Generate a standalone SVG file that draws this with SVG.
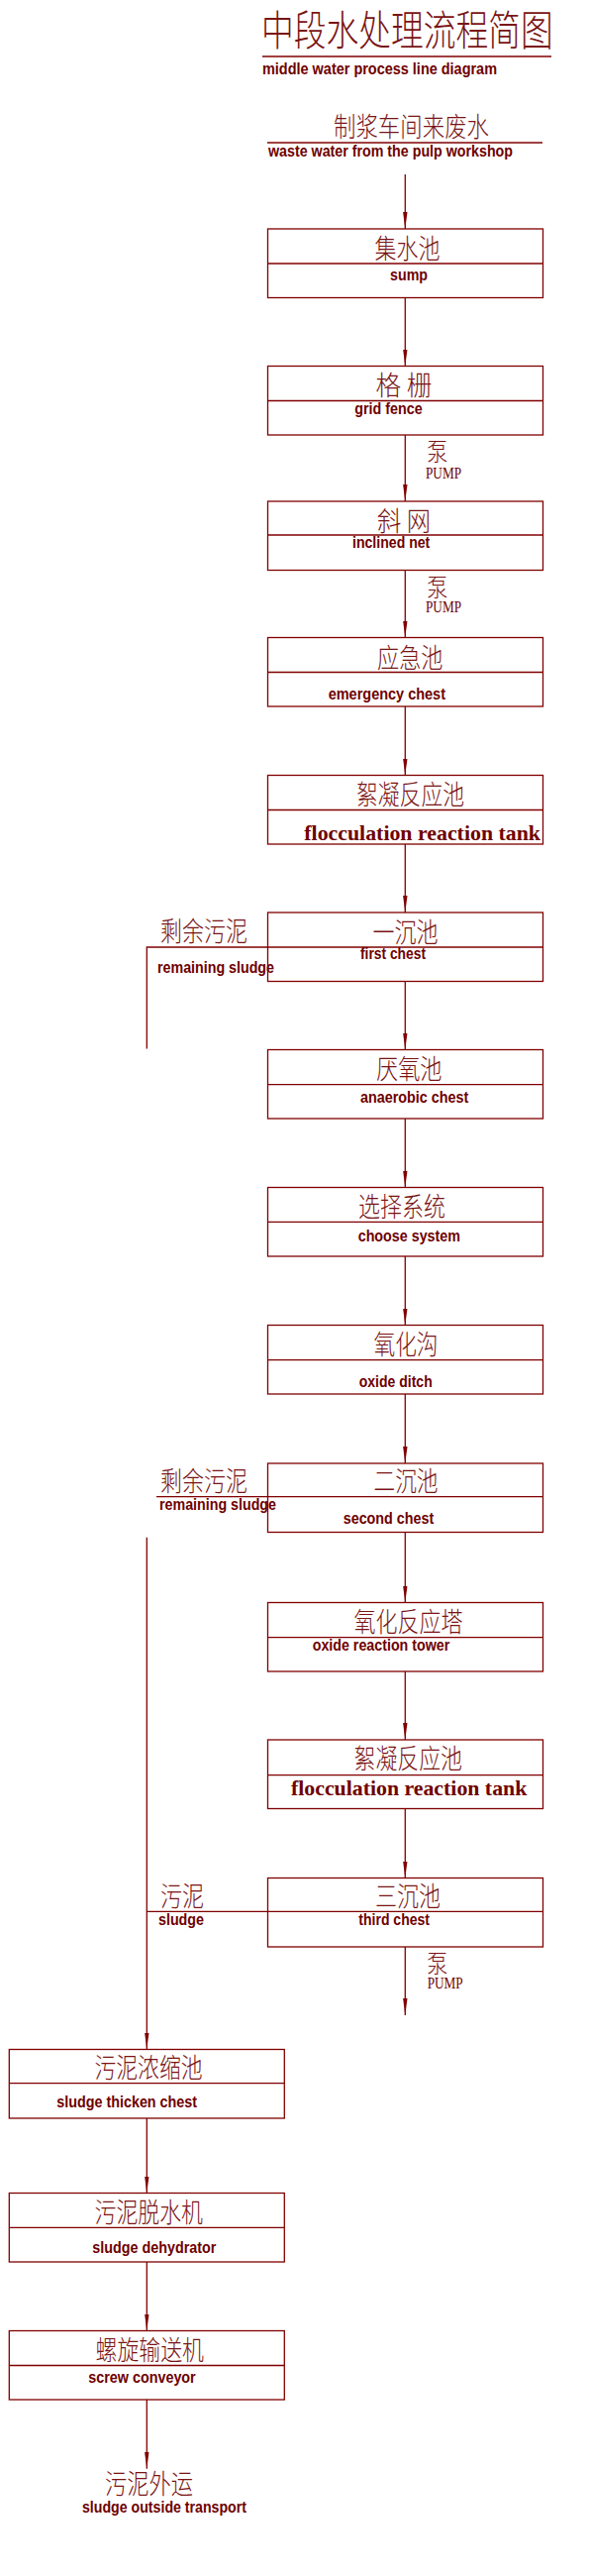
<svg xmlns="http://www.w3.org/2000/svg" width="596" height="2600" viewBox="0 0 596 2600">
<style>
.bx{fill:none;stroke:#800000;stroke-width:1.3}
.dv{stroke:#800000;stroke-width:1.3}
.cn{font-family:"Noto Sans CJK SC Light","Noto Sans CJK SC","Noto Sans CJK JP",sans-serif;font-weight:200;font-size:27px;fill:#7a1414}
.en{font-family:"Liberation Sans",Arial,sans-serif;font-weight:bold;font-size:16px;fill:#6e0000}
.sf{font-family:"Liberation Serif","Times New Roman",serif;font-weight:bold;font-size:21px;fill:#6e0000}
.pm{font-family:"Liberation Serif","Times New Roman",serif;font-size:16px;fill:#6e0000}
#connectors line,#connectors polyline{stroke:#800000;stroke-width:1.3;fill:none}
</style>
<defs>
<marker id="ah" markerUnits="userSpaceOnUse" viewBox="0 -3 17 6" refX="17" refY="0" markerWidth="17" markerHeight="6" orient="auto">
<path d="M0,-2.2 L17,0 L0,2.2 z" fill="#800000"/>
</marker>
</defs>
<rect width="596" height="2600" fill="#ffffff"/>

<g id="title">
<text class="cn" transform="translate(264,46) scale(0.78,1)" x="0" y="0" style="font-size:42px">中段水处理流程简图</text>
<line class="dv" x1="265" y1="57" x2="557" y2="57"/>
<text class="en" x="265" y="75" textLength="237" lengthAdjust="spacingAndGlyphs">middle water process line diagram</text>
</g>

<g id="source">
<text class="cn" x="337" y="138" textLength="157" lengthAdjust="spacingAndGlyphs">制浆车间来废水</text>
<line class="dv" x1="270" y1="144" x2="548" y2="144"/>
<text class="en" x="271" y="157.5" style="font-size:17px" textLength="247" lengthAdjust="spacingAndGlyphs">waste water from the pulp workshop</text>
</g>

<g id="connectors">
<line x1="409.3" y1="176" x2="409.3" y2="231" marker-end="url(#ah)"/>
<line x1="409.3" y1="300.5" x2="409.3" y2="369.5" marker-end="url(#ah)"/>
<line x1="409.3" y1="439" x2="409.3" y2="506" marker-end="url(#ah)"/>
<line x1="409.3" y1="575.5" x2="409.3" y2="643.5" marker-end="url(#ah)"/>
<line x1="409.3" y1="713" x2="409.3" y2="782.5" marker-end="url(#ah)"/>
<line x1="409.3" y1="852" x2="409.3" y2="921" marker-end="url(#ah)"/>
<line x1="409.3" y1="990.5" x2="409.3" y2="1059.5" marker-end="url(#ah)"/>
<line x1="409.3" y1="1129" x2="409.3" y2="1198.5" marker-end="url(#ah)"/>
<line x1="409.3" y1="1268" x2="409.3" y2="1337.5" marker-end="url(#ah)"/>
<line x1="409.3" y1="1407" x2="409.3" y2="1477" marker-end="url(#ah)"/>
<line x1="409.3" y1="1546.5" x2="409.3" y2="1617.5" marker-end="url(#ah)"/>
<line x1="409.3" y1="1687" x2="409.3" y2="1756" marker-end="url(#ah)"/>
<line x1="409.3" y1="1825.5" x2="409.3" y2="1895.5" marker-end="url(#ah)"/>
<line x1="409.3" y1="1965" x2="409.3" y2="2034" marker-end="url(#ah)"/>
<polyline points="270.5,956 148.3,956 148.3,1058.5"/>
<line x1="158" y1="1510.7" x2="270.5" y2="1510.7"/>
<line x1="148.3" y1="1551.7" x2="148.3" y2="2068.5" marker-end="url(#ah)"/>
<line x1="148.3" y1="1929.3" x2="270.5" y2="1929.3"/>
<line x1="148.3" y1="2138" x2="148.3" y2="2213.5" marker-end="url(#ah)"/>
<line x1="148.3" y1="2283" x2="148.3" y2="2352.5" marker-end="url(#ah)"/>
<line x1="148.3" y1="2422" x2="148.3" y2="2491.7" marker-end="url(#ah)"/>
</g>

<g id="pump-labels">
<text class="cn" x="431" y="465" style="font-size:25px" textLength="21.5" lengthAdjust="spacingAndGlyphs">泵</text>
<text class="pm" x="430" y="483.3" textLength="36" lengthAdjust="spacingAndGlyphs">PUMP</text>
<text class="cn" x="431" y="601.5" style="font-size:25px" textLength="21.5" lengthAdjust="spacingAndGlyphs">泵</text>
<text class="pm" x="430" y="618.3" textLength="36" lengthAdjust="spacingAndGlyphs">PUMP</text>
<text class="cn" x="431" y="1991" style="font-size:25px" textLength="21.5" lengthAdjust="spacingAndGlyphs">泵</text>
<text class="pm" x="431.7" y="2007.3" textLength="36" lengthAdjust="spacingAndGlyphs">PUMP</text>
</g>

<g id="side-labels">
<text class="cn" x="162" y="950" textLength="88" lengthAdjust="spacingAndGlyphs">剩余污泥</text>
<text class="en" x="159" y="982" textLength="118" lengthAdjust="spacingAndGlyphs">remaining sludge</text>
<text class="cn" x="162" y="1505" textLength="88" lengthAdjust="spacingAndGlyphs">剩余污泥</text>
<text class="en" x="161" y="1524.3" textLength="118" lengthAdjust="spacingAndGlyphs">remaining sludge</text>
<text class="cn" x="162" y="1923.5" textLength="44" lengthAdjust="spacingAndGlyphs">污泥</text>
<text class="en" x="160" y="1943" textLength="46" lengthAdjust="spacingAndGlyphs">sludge</text>
</g>

<g id="sump">
<rect class="bx" x="270.5" y="231" width="278" height="69.5"/>
<line class="dv" x1="270.5" y1="266" x2="548.5" y2="266"/>
<text class="cn" x="378.5" y="261" textLength="66" lengthAdjust="spacingAndGlyphs">集水池</text>
<text class="en" x="394" y="283" textLength="38" lengthAdjust="spacingAndGlyphs">sump</text>
</g>
<g id="grid-fence">
<rect class="bx" x="270.5" y="369.5" width="278" height="69.5"/>
<line class="dv" x1="270.5" y1="404.5" x2="548.5" y2="404.5"/>
<text class="cn" x="379.5" y="399" textLength="57" lengthAdjust="spacingAndGlyphs">格 栅</text>
<text class="en" x="358.3" y="417.5" textLength="68.4" lengthAdjust="spacingAndGlyphs">grid fence</text>
</g>
<g id="inclined-net">
<rect class="bx" x="270.5" y="506" width="278" height="69.5"/>
<line class="dv" x1="270.5" y1="540" x2="548.5" y2="540"/>
<text class="cn" x="381" y="535.5" textLength="54" lengthAdjust="spacingAndGlyphs">斜 网</text>
<text class="en" x="356" y="553.3" textLength="78.3" lengthAdjust="spacingAndGlyphs">inclined net</text>
</g>
<g id="emergency-chest">
<rect class="bx" x="270.5" y="643.5" width="278" height="69.5"/>
<line class="dv" x1="270.5" y1="678.5" x2="548.5" y2="678.5"/>
<text class="cn" x="381" y="673.5" textLength="66.5" lengthAdjust="spacingAndGlyphs">应急池</text>
<text class="en" x="331.7" y="706" textLength="118.3" lengthAdjust="spacingAndGlyphs">emergency chest</text>
</g>
<g id="flocculation-1">
<rect class="bx" x="270.5" y="782.5" width="278" height="69.5"/>
<line class="dv" x1="270.5" y1="817.5" x2="548.5" y2="817.5"/>
<text class="cn" x="360" y="811.5" textLength="109" lengthAdjust="spacingAndGlyphs">絮凝反应池</text>
<text class="sf" x="307.3" y="848.3" textLength="238.7" lengthAdjust="spacingAndGlyphs">flocculation reaction tank</text>
</g>
<g id="first-chest">
<rect class="bx" x="270.5" y="921" width="278" height="69.5"/>
<line class="dv" x1="270.5" y1="956" x2="548.5" y2="956"/>
<text class="cn" x="376.5" y="950.5" textLength="66" lengthAdjust="spacingAndGlyphs">一沉池</text>
<text class="en" x="364" y="968.3" textLength="66" lengthAdjust="spacingAndGlyphs">first chest</text>
</g>
<g id="anaerobic-chest">
<rect class="bx" x="270.5" y="1059.5" width="278" height="69.5"/>
<line class="dv" x1="270.5" y1="1094.7" x2="548.5" y2="1094.7"/>
<text class="cn" x="380" y="1088.5" textLength="66.5" lengthAdjust="spacingAndGlyphs">厌氧池</text>
<text class="en" x="364" y="1113.3" textLength="109.3" lengthAdjust="spacingAndGlyphs">anaerobic chest</text>
</g>
<g id="choose-system">
<rect class="bx" x="270.5" y="1198.5" width="278" height="69.5"/>
<line class="dv" x1="270.5" y1="1233.3" x2="548.5" y2="1233.3"/>
<text class="cn" x="362" y="1227.5" textLength="88" lengthAdjust="spacingAndGlyphs">选择系统</text>
<text class="en" x="361.7" y="1253.3" textLength="103.3" lengthAdjust="spacingAndGlyphs">choose system</text>
</g>
<g id="oxide-ditch">
<rect class="bx" x="270.5" y="1337.5" width="278" height="69.5"/>
<line class="dv" x1="270.5" y1="1372.7" x2="548.5" y2="1372.7"/>
<text class="cn" x="377.5" y="1366.5" textLength="65" lengthAdjust="spacingAndGlyphs">氧化沟</text>
<text class="en" x="362.7" y="1400" textLength="74" lengthAdjust="spacingAndGlyphs">oxide ditch</text>
</g>
<g id="second-chest">
<rect class="bx" x="270.5" y="1477" width="278" height="69.5"/>
<line class="dv" x1="270.5" y1="1510.7" x2="548.5" y2="1510.7"/>
<text class="cn" x="377.5" y="1505" textLength="65" lengthAdjust="spacingAndGlyphs">二沉池</text>
<text class="en" x="346.7" y="1538.3" textLength="91.6" lengthAdjust="spacingAndGlyphs">second chest</text>
</g>
<g id="oxide-reaction-tower">
<rect class="bx" x="270.5" y="1617.5" width="278" height="69.5"/>
<line class="dv" x1="270.5" y1="1652.7" x2="548.5" y2="1652.7"/>
<text class="cn" x="357.5" y="1646.5" textLength="110" lengthAdjust="spacingAndGlyphs">氧化反应塔</text>
<text class="en" x="315.7" y="1666" textLength="138.6" lengthAdjust="spacingAndGlyphs">oxide reaction tower</text>
</g>
<g id="flocculation-2">
<rect class="bx" x="270.5" y="1756" width="278" height="69.5"/>
<line class="dv" x1="270.5" y1="1791.7" x2="548.5" y2="1791.7"/>
<text class="cn" x="357.5" y="1785" textLength="109.5" lengthAdjust="spacingAndGlyphs">絮凝反应池</text>
<text class="sf" x="294" y="1812.3" textLength="238.3" lengthAdjust="spacingAndGlyphs">flocculation reaction tank</text>
</g>
<g id="third-chest">
<rect class="bx" x="270.5" y="1895.5" width="278" height="69.5"/>
<line class="dv" x1="270.5" y1="1929.3" x2="548.5" y2="1929.3"/>
<text class="cn" x="379" y="1923.5" textLength="66" lengthAdjust="spacingAndGlyphs">三沉池</text>
<text class="en" x="362.3" y="1943.3" textLength="71.7" lengthAdjust="spacingAndGlyphs">third chest</text>
</g>
<g id="sludge-thicken-chest">
<rect class="bx" x="9.3" y="2068.5" width="278" height="69.5"/>
<line class="dv" x1="9.3" y1="2102.7" x2="287.3" y2="2102.7"/>
<text class="cn" x="95.5" y="2096.5" textLength="109" lengthAdjust="spacingAndGlyphs">污泥浓缩池</text>
<text class="en" x="57.3" y="2127.3" textLength="141.7" lengthAdjust="spacingAndGlyphs">sludge thicken chest</text>
</g>
<g id="sludge-dehydrator">
<rect class="bx" x="9.3" y="2213.5" width="278" height="69.5"/>
<line class="dv" x1="9.3" y1="2248.3" x2="287.3" y2="2248.3"/>
<text class="cn" x="95.5" y="2242.5" textLength="109.5" lengthAdjust="spacingAndGlyphs">污泥脱水机</text>
<text class="en" x="93.3" y="2274" textLength="125" lengthAdjust="spacingAndGlyphs">sludge dehydrator</text>
</g>
<g id="screw-conveyor">
<rect class="bx" x="9.3" y="2352.5" width="278" height="69.5"/>
<line class="dv" x1="9.3" y1="2387.5" x2="287.3" y2="2387.5"/>
<text class="cn" x="96.5" y="2381.5" textLength="109.5" lengthAdjust="spacingAndGlyphs">螺旋输送机</text>
<text class="en" x="89.3" y="2405" textLength="108.4" lengthAdjust="spacingAndGlyphs">screw conveyor</text>
</g>
<g id="outside-transport">
<text class="cn" x="106" y="2517" textLength="89" lengthAdjust="spacingAndGlyphs">污泥外运</text>
<text class="en" x="83" y="2536" style="font-size:17px" textLength="166" lengthAdjust="spacingAndGlyphs">sludge outside transport</text>
</g>
</svg>
